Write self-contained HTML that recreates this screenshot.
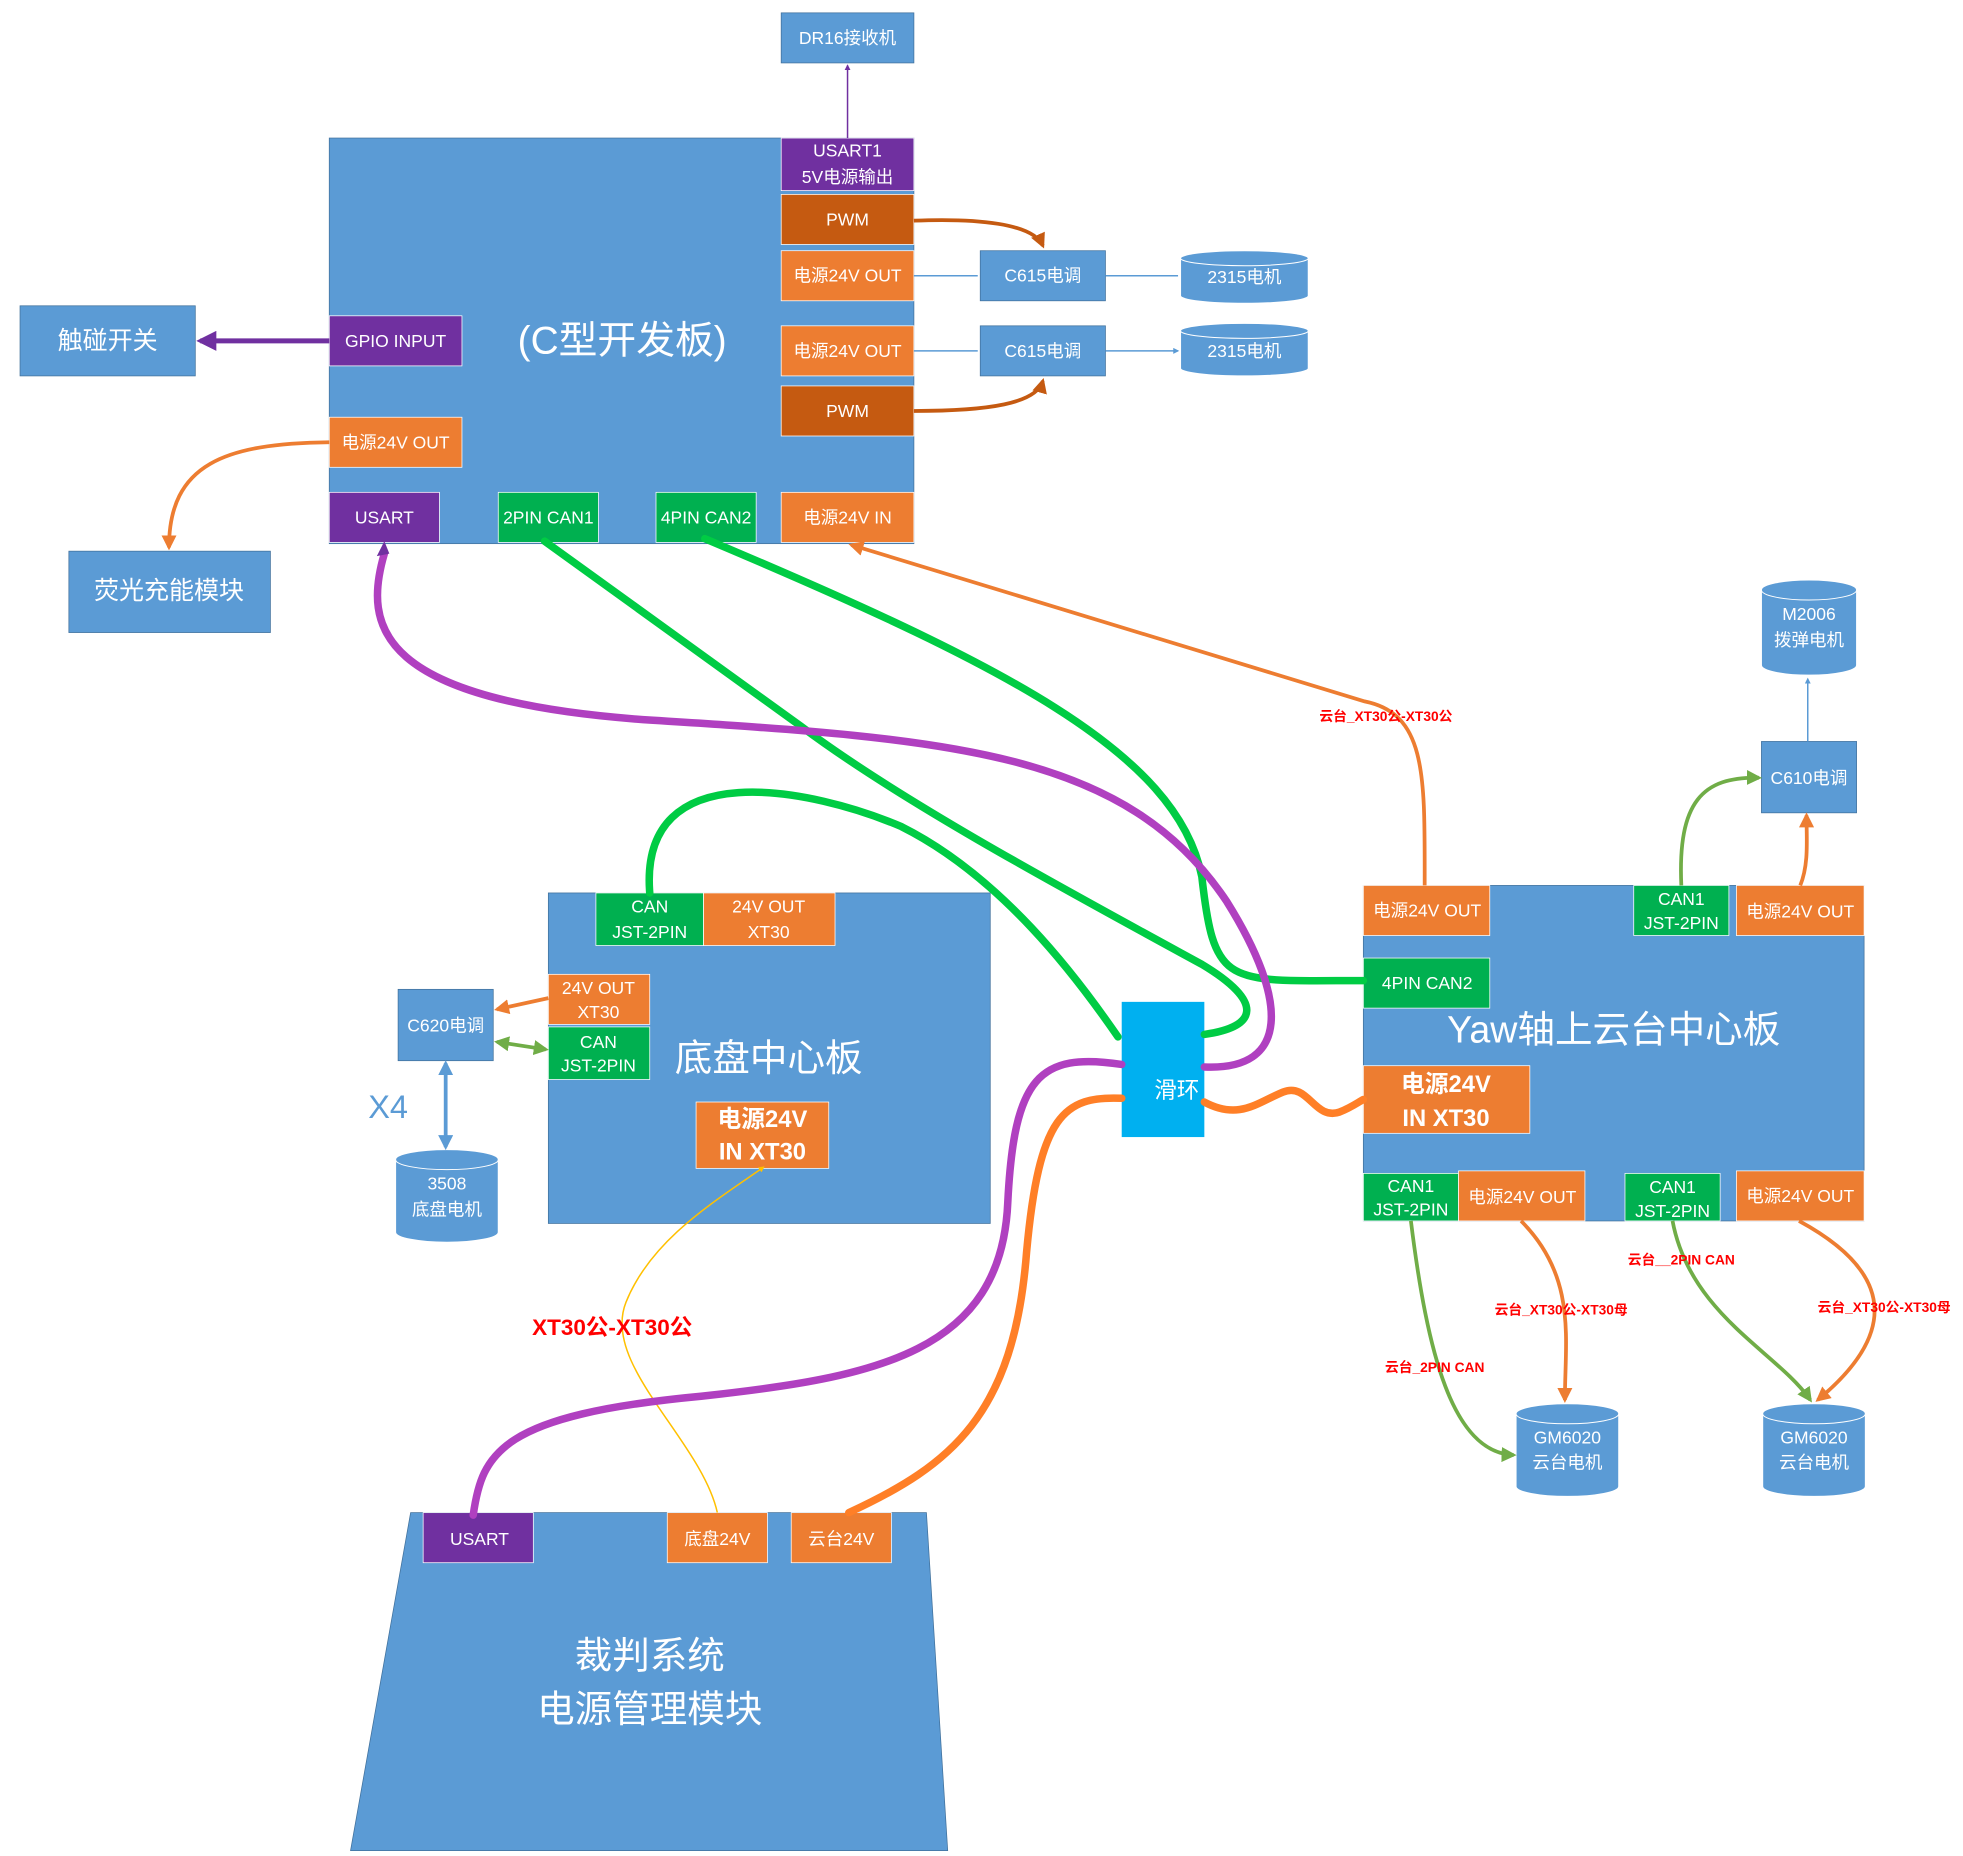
<!DOCTYPE html>
<html><head><meta charset="utf-8"><style>
html,body{margin:0;padding:0;background:#fff;}
svg{display:block;}
text{font-family:"Liberation Sans","Noto Sans CJK SC",sans-serif;fill:#fff;text-anchor:middle;dominant-baseline:central;}
.s{font-size:14px;}
.r{fill:#f00;font-weight:bold;font-size:11px;}
</style></head><body>
<svg width="1963" height="1856" viewBox="0 0 1568 1482" xmlns="http://www.w3.org/2000/svg">
<defs>
<marker id="a" viewBox="0 0 10 10" refX="8" refY="5" markerWidth="4" markerHeight="4" orient="auto-start-reverse"><path d="M0,0L10,5L0,10z" fill="context-stroke"/></marker>
</defs>
<g fill="#5b9bd5" stroke="#41719c" stroke-width="0.6">
<rect x="624" y="10" width="106" height="40"/>
<rect x="263" y="110" width="467" height="324"/>
<rect x="783" y="200" width="100" height="40"/>
<rect x="783" y="260" width="100" height="40"/>
<rect x="16" y="244" width="140" height="56"/>
<rect x="55" y="440" width="161" height="65"/>
<rect x="438" y="713" width="353" height="264"/>
<rect x="318" y="790" width="76" height="57"/>
<rect x="1089" y="707" width="400" height="268"/>
<rect x="1407" y="592" width="76" height="57"/>
<path d="M328,1208L740,1208L757,1478L280,1478z"/>
</g>
<g fill="#5b9bd5" stroke="#fff" stroke-width="0.8">
<path d="M943,206v30a51,6 0 0 0 102,0v-30"/><ellipse cx="994" cy="206" rx="51" ry="6"/>
<path d="M943,264v30a51,6 0 0 0 102,0v-30"/><ellipse cx="994" cy="264" rx="51" ry="6"/>
<path d="M316,926v58a41,8 0 0 0 82,0v-58"/><ellipse cx="357" cy="926" rx="41" ry="8"/>
<path d="M1407,471v60a38,8 0 0 0 76,0v-60"/><ellipse cx="1445" cy="471" rx="38" ry="8"/>
<path d="M1211,1129v58a41,8 0 0 0 82,0v-58"/><ellipse cx="1252" cy="1129" rx="41" ry="8"/>
<path d="M1408,1129v58a41,8 0 0 0 82,0v-58"/><ellipse cx="1449" cy="1129" rx="41" ry="8"/>
</g>
<g stroke="#fff" stroke-width="0.6">
<rect x="624" y="110" width="106" height="42" fill="#7030a0"/>
<rect x="624" y="155" width="106" height="40" fill="#c55a11"/>
<rect x="624" y="200" width="106" height="40" fill="#ed7d31"/>
<rect x="624" y="260" width="106" height="40" fill="#ed7d31"/>
<rect x="624" y="308" width="106" height="40" fill="#c55a11"/>
<rect x="263" y="252" width="106" height="40" fill="#7030a0"/>
<rect x="263" y="333" width="106" height="40" fill="#ed7d31"/>
<rect x="263" y="393" width="88" height="40" fill="#7030a0"/>
<rect x="398" y="393" width="80" height="40" fill="#00b050"/>
<rect x="524" y="393" width="80" height="40" fill="#00b050"/>
<rect x="624" y="393" width="106" height="40" fill="#ed7d31"/>
<rect x="476" y="713" width="86" height="42" fill="#00b050"/>
<rect x="562" y="713" width="105" height="42" fill="#ed7d31"/>
<rect x="438" y="778" width="81" height="40" fill="#ed7d31"/>
<rect x="438" y="820" width="81" height="42" fill="#00b050"/>
<rect x="556" y="880" width="106" height="53" fill="#ed7d31"/>
<rect x="1089" y="707" width="101" height="40" fill="#ed7d31"/>
<rect x="1305" y="707" width="76" height="40" fill="#00b050"/>
<rect x="1387" y="707" width="102" height="40" fill="#ed7d31"/>
<rect x="1089" y="765" width="101" height="40" fill="#00b050"/>
<rect x="1089" y="851" width="133" height="54" fill="#ed7d31"/>
<rect x="1089" y="937" width="76" height="38" fill="#00b050"/>
<rect x="1165" y="935" width="101" height="40" fill="#ed7d31"/>
<rect x="1298" y="937" width="76" height="38" fill="#00b050"/>
<rect x="1387" y="935" width="102" height="40" fill="#ed7d31"/>
<rect x="338" y="1208" width="88" height="40" fill="#7030a0"/>
<rect x="533" y="1208" width="80" height="40" fill="#ed7d31"/>
<rect x="632" y="1208" width="80" height="40" fill="#ed7d31"/>
</g>
<rect x="896" y="800" width="66" height="108" fill="#00b0f0"/>
<g fill="none" stroke-width="1.2">
<path d="M677,110V52" stroke="#7030a0" marker-end="url(#a)"/>
<path d="M730,220H781M883,220H941M730,280H781M883,280H941" stroke="#5b9bd5" marker-end="url(#a)"/>
<path d="M1444,592V542" stroke="#5b9bd5" marker-end="url(#a)"/>
<path d="M573,1208C560,1150 480,1090 500,1040C520,990 570,960 610,932" stroke="#ffc000" marker-end="url(#a)"/>
</g>
<g fill="none" stroke-width="3">
<path d="M730,176C780,174 825,178 833,196" stroke="#c55a11" marker-end="url(#a)"/>
<path d="M730,328C790,328 828,322 833,304" stroke="#c55a11" marker-end="url(#a)"/>
<path d="M263,353C180,354 135,370 135,437" stroke="#ed7d31" marker-end="url(#a)"/>
<path d="M263,272H160" stroke="#7030a0" stroke-width="4" marker-end="url(#a)"/>
<path d="M438,797L397,806" stroke="#ed7d31" marker-end="url(#a)"/>
<path d="M436,838L397,832" stroke="#70ad47" marker-end="url(#a)" marker-start="url(#a)"/>
<path d="M356,849V916" stroke="#5b9bd5" marker-end="url(#a)" marker-start="url(#a)"/>
<path d="M680,435L1090,560C1140,570 1138,620 1138,707" stroke="#ed7d31" marker-start="url(#a)"/>
<path d="M1343,707C1340,640 1360,620 1405,621" stroke="#70ad47" marker-end="url(#a)"/>
<path d="M1438,707C1445,690 1443,670 1443,651" stroke="#ed7d31" marker-end="url(#a)"/>
<path d="M1127,975C1140,1080 1160,1160 1209,1162" stroke="#70ad47" marker-end="url(#a)"/>
<path d="M1215,975C1260,1020 1250,1070 1250,1118" stroke="#ed7d31" marker-end="url(#a)"/>
<path d="M1336,975C1350,1050 1420,1080 1446,1118" stroke="#70ad47" marker-end="url(#a)"/>
<path d="M1437,975C1520,1020 1510,1070 1452,1118" stroke="#ed7d31" marker-end="url(#a)"/>
</g>
<g fill="none" stroke-width="6" stroke-linecap="round">
<path d="M435,432L640,580C720,640 850,710 960,770C1010,800 1005,820 962,826" stroke="#00cc44"/>
<path d="M563,430C800,530 940,600 960,700C970,790 980,783 1089,783" stroke="#00cc44"/>
<path d="M519,713C510,600 650,630 720,660C800,700 860,780 893,828" stroke="#00cc44"/>
<path d="M307,442C290,500 300,560 520,575C760,590 900,600 980,720C1030,800 1030,855 962,852" stroke="#b040c0"/>
<path d="M896,850C830,840 810,860 805,960C800,1080 700,1100 560,1115C400,1130 385,1160 378,1210" stroke="#b040c0"/>
<path d="M896,877C850,875 830,890 820,1000C810,1130 760,1170 678,1208" stroke="#ff7f27"/>
<path d="M962,880C990,895 1005,880 1025,872C1045,864 1050,895 1070,888C1080,884 1085,880 1089,878" stroke="#ff7f27"/>
</g>
<path d="M307,432l-6,12l10,-2z" fill="#7030a0"/>
<text x="677" y="30" class="s">DR16接收机</text>
<text x="677" y="120" class="s">USART1</text>
<text x="677" y="141" class="s">5V电源输出</text>
<text x="677" y="175" class="s">PWM</text>
<text x="677" y="220" class="s">电源24V OUT</text>
<text x="677" y="280" class="s">电源24V OUT</text>
<text x="677" y="328" class="s">PWM</text>
<text x="833" y="220" class="s">C615电调</text>
<text x="833" y="280" class="s">C615电调</text>
<text x="994" y="221" class="s">2315电机</text>
<text x="994" y="280" class="s">2315电机</text>
<text x="86" y="272" style="font-size:20px">触碰开关</text>
<text x="316" y="272" class="s">GPIO INPUT</text>
<text x="497" y="272" style="font-size:31px">(C型开发板)</text>
<text x="316" y="353" class="s">电源24V OUT</text>
<text x="307" y="413" class="s">USART</text>
<text x="438" y="413" class="s">2PIN CAN1</text>
<text x="564" y="413" class="s">4PIN CAN2</text>
<text x="677" y="413" class="s">电源24V IN</text>
<text x="135" y="472" style="font-size:20px">荧光充能模块</text>
<text x="519" y="724" class="s">CAN</text>
<text x="519" y="744" class="s">JST-2PIN</text>
<text x="614" y="724" class="s">24V OUT</text>
<text x="614" y="744" class="s">XT30</text>
<text x="478" y="789" class="s">24V OUT</text>
<text x="478" y="808" class="s">XT30</text>
<text x="478" y="832" class="s">CAN</text>
<text x="478" y="851" class="s">JST-2PIN</text>
<text x="614" y="845" style="font-size:30px">底盘中心板</text>
<text x="609" y="894" style="font-size:19px;font-weight:bold">电源24V</text>
<text x="609" y="920" style="font-size:19px;font-weight:bold">IN XT30</text>
<text x="356" y="819" class="s">C620电调</text>
<text x="310" y="884" style="font-size:26px;fill:#5b9bd5">X4</text>
<text x="357" y="945" class="s">3508</text>
<text x="357" y="966" class="s">底盘电机</text>
<text x="940" y="871" style="font-size:18px">滑环</text>
<text x="1140" y="727" class="s">电源24V OUT</text>
<text x="1343" y="718" class="s">CAN1</text>
<text x="1343" y="737" class="s">JST-2PIN</text>
<text x="1438" y="728" class="s">电源24V OUT</text>
<text x="1140" y="785" class="s">4PIN CAN2</text>
<text x="1289" y="822" style="font-size:30px">Yaw轴上云台中心板</text>
<text x="1155" y="866" style="font-size:19px;font-weight:bold">电源24V</text>
<text x="1155" y="893" style="font-size:19px;font-weight:bold">IN XT30</text>
<text x="1127" y="947" class="s">CAN1</text>
<text x="1127" y="966" class="s">JST-2PIN</text>
<text x="1216" y="956" class="s">电源24V OUT</text>
<text x="1336" y="948" class="s">CAN1</text>
<text x="1336" y="967" class="s">JST-2PIN</text>
<text x="1438" y="955" class="s">电源24V OUT</text>
<text x="1445" y="490" class="s">M2006</text>
<text x="1445" y="511" class="s">拨弹电机</text>
<text x="1445" y="621" class="s">C610电调</text>
<text x="1252" y="1148" class="s">GM6020</text>
<text x="1252" y="1168" class="s">云台电机</text>
<text x="1449" y="1148" class="s">GM6020</text>
<text x="1449" y="1168" class="s">云台电机</text>
<text x="383" y="1229" class="s">USART</text>
<text x="573" y="1229" class="s">底盘24V</text>
<text x="672" y="1229" class="s">云台24V</text>
<text x="519" y="1322" style="font-size:30px">裁判系统</text>
<text x="519" y="1365" style="font-size:30px">电源管理模块</text>
<text x="1107" y="572" class="r">云台_XT30公-XT30公</text>
<text x="489" y="1060" class="r" style="font-size:18px">XT30公-XT30公</text>
<text x="1343" y="1006" class="r">云台__2PIN CAN</text>
<text x="1247" y="1046" class="r">云台_XT30公-XT30母</text>
<text x="1505" y="1044" class="r">云台_XT30公-XT30母</text>
<text x="1146" y="1092" class="r">云台_2PIN CAN</text>
</svg>
</body></html>
